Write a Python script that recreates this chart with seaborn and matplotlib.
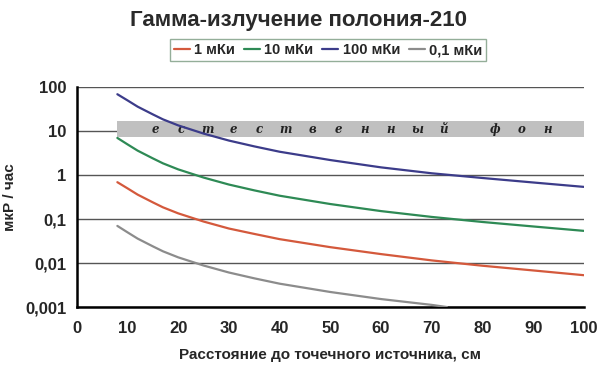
import pandas as pd
import matplotlib
matplotlib.use('Agg')
import matplotlib.pyplot as plt
import seaborn as sns

# --- данные ---
dist = [8, 10, 12, 15, 17, 20, 25, 30, 35, 40, 50, 60, 70, 80, 90, 100]
act_100 = [69, 50, 36, 24, 18.5, 13.5, 8.8, 6.1, 4.5, 3.4, 2.2, 1.5, 1.1, 0.86, 0.68, 0.54]
act_10 = [7.0, 5.0, 3.6, 2.4, 1.85, 1.35, 0.88, 0.61, 0.45, 0.34, 0.22, 0.152, 0.112, 0.086, 0.068, 0.054]
act_1 = [0.69, 0.5, 0.36, 0.24, 0.185, 0.135, 0.088, 0.061, 0.046, 0.035, 0.023, 0.016, 0.0115, 0.0087, 0.0068, 0.0053]
dist_01 = [8, 10, 12, 15, 17, 20, 25, 30, 35, 40, 50, 60, 70, 73]
act_01 = [0.07, 0.05, 0.036, 0.024, 0.0185, 0.0135, 0.0088, 0.0061, 0.0045, 0.0034, 0.0022, 0.00152, 0.00112, 0.001]

series_names = ['1 мКи', '10 мКи', '100 мКи', '0,1 мКи']
series_colors = ['#d4593c', '#2e8a55', '#3c3c8a', '#8c8c8c']
y_ticks = [0.001, 0.01, 0.1, 1, 10, 100]
y_labels = ['0,001', '0,01', '0,1', '1', '10', '100']
x_ticks = list(range(0, 101, 10))
band_low, band_high = 7.3, 17
band_text = 'естественный фон'

df = pd.concat([
    pd.DataFrame({'x': dist, 'y': act_1, 'серия': '1 мКи'}),
    pd.DataFrame({'x': dist, 'y': act_10, 'серия': '10 мКи'}),
    pd.DataFrame({'x': dist, 'y': act_100, 'серия': '100 мКи'}),
    pd.DataFrame({'x': dist_01, 'y': act_01, 'серия': '0,1 мКи'}),
])

sns.set_style('white')
plt.rcParams['font.family'] = ['Liberation Sans', 'DejaVu Sans']
plt.rcParams['font.weight'] = 'bold'

fig = plt.figure(figsize=(6, 3.74), dpi=100)
ax = fig.add_axes([0.128, 0.179, 0.845, 0.588])

# горизонтальные линии сетки
for yv in y_ticks:
    ax.axhline(yv, color='#555555', lw=1.0, zorder=1)

# полоса естественного фона
ax.fill_between([8, 100], band_low, band_high, color='#c0c0c0', lw=0, zorder=2)
step = (92.9 - 15.4) / (len(band_text) - 1)
for i, ch in enumerate(band_text):
    ax.text(15.4 + i * step, 11, ch, ha='center', va='center', fontsize=8.5,
            family='DejaVu Serif', style='italic', fontweight='bold', color='#222222', zorder=3)

sns.lineplot(data=df, x='x', y='y', hue='серия', hue_order=series_names,
             palette=dict(zip(series_names, series_colors)), lw=1.6, ax=ax,
             estimator=None, sort=True, zorder=4)

ax.set_yscale('log')
ax.set_xlim(0, 100)
ax.set_ylim(0.001, 100)
ax.set_yticks(y_ticks)
ax.set_yticklabels(y_labels)
ax.set_xticks(x_ticks)
ax.minorticks_off()
ax.tick_params(axis='both', labelsize=12, direction='out', length=4, width=1.2, color='black')
ax.tick_params(axis='x', pad=6)
for lab in ax.get_xticklabels() + ax.get_yticklabels():
    lab.set_fontweight('bold')

for s in ['top', 'right']:
    ax.spines[s].set_visible(False)
for s in ['left', 'bottom']:
    ax.spines[s].set_color('black')
    ax.spines[s].set_linewidth(1.8)

ax.set_xlabel('Расстояние до точечного источника, см', fontsize=11, fontweight='bold', labelpad=9)
ax.set_ylabel('мкР / час', fontsize=11, fontweight='bold', labelpad=6)

fig.suptitle('Гамма-излучение полония-210', x=0.497, y=0.972, fontsize=16, fontweight='bold', color='#2a2a2a')

handles, labels = ax.get_legend_handles_labels()
ax.get_legend().remove()
leg = fig.legend(handles, labels, loc='center', bbox_to_anchor=(0.547, 0.866), ncol=4,
                 frameon=True, fancybox=False, handlelength=1.1, handletextpad=0.3,
                 columnspacing=0.6, borderpad=0.25, prop={'weight': 'bold', 'size': 10.5})
leg.get_frame().set_edgecolor('#7a9a80')
leg.get_frame().set_linewidth(1.0)

fig.savefig('out.png', dpi=100)
